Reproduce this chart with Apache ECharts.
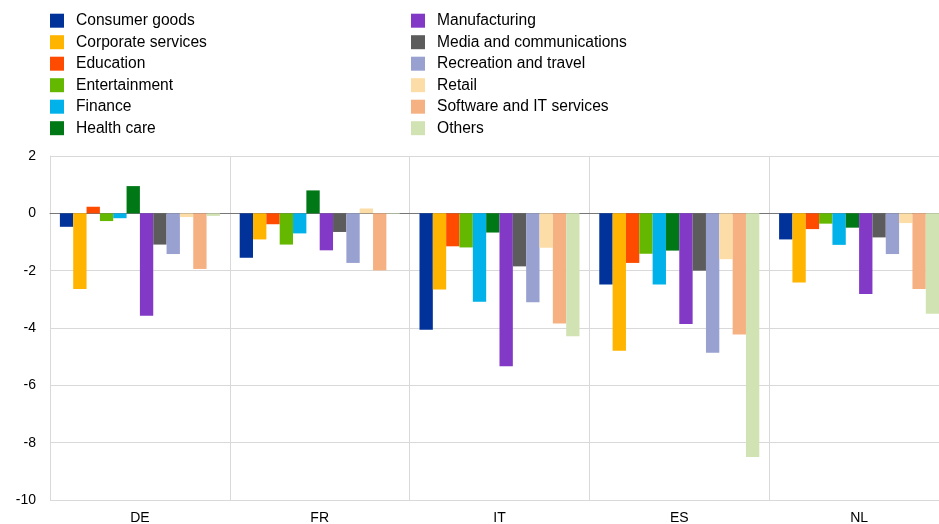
<!DOCTYPE html>
<html>
<head>
<meta charset="utf-8">
<script src="https://cdn.jsdelivr.net/npm/echarts@6/dist/echarts.min.js"></script>
<style>html,body{margin:0;padding:0;background:#fff;}#c{width:939px;height:524px;}</style>
</head>
<body>
<div id="c"></div>
<script>
const countries = ['DE', 'FR', 'IT', 'ES', 'NL'];
const sectors = ['Consumer goods', 'Corporate services', 'Education', 'Entertainment', 'Finance', 'Health care',
  'Manufacturing', 'Media and communications', 'Recreation and travel', 'Retail', 'Software and IT services', 'Others'];
const colors = ['#003299', '#FFB400', '#FF4B00', '#65B800', '#00B1EA', '#007816',
  '#8139C6', '#5C5C5C', '#98A1D0', '#FDDDA7', '#F6B183', '#D2E3B3'];
// values per sector, order DE, FR, IT, ES, NL
const consumerGoods = [-0.47, -1.55, -4.06, -2.48, -0.91];
const corporateServices = [-2.64, -0.91, -2.66, -4.79, -2.41];
const education = [0.23, -0.38, -1.15, -1.73, -0.55];
const entertainment = [-0.27, -1.09, -1.19, -1.41, -0.36];
const finance = [-0.17, -0.70, -3.08, -2.48, -1.10];
const healthCare = [0.95, 0.80, -0.67, -1.30, -0.50];
const manufacturing = [-3.57, -1.29, -5.33, -3.86, -2.81];
const media = [-1.09, -0.65, -1.85, -2.00, -0.84];
const recreation = [-1.42, -1.73, -3.10, -4.86, -1.42];
const retail = [-0.13, 0.17, -1.20, -1.60, -0.34];
const software = [-1.94, -1.99, -3.84, -4.23, -2.64];
const others = [-0.09, -0.02, -4.29, -8.50, -3.50];
const values = [consumerGoods, corporateServices, education, entertainment, finance, healthCare,
  manufacturing, media, recreation, retail, software, others];

const chart = echarts.init(document.getElementById('c'));
const font = 'Liberation Sans, Arial, sans-serif';
const legendCommon = {
  orient: 'vertical', top: 12.7, itemWidth: 14, itemHeight: 14, itemGap: 5.5, padding: 0,
  icon: 'rect', selectedMode: false,
  textStyle: { fontFamily: font, fontSize: 15.6, lineHeight: 14, color: '#000', padding: [0, 0, 0, 7] }
};
chart.setOption({
  animation: false,
  color: colors,
  legend: [
    Object.assign({}, legendCommon, { left: 50, data: sectors.slice(0, 6) }),
    Object.assign({}, legendCommon, { left: 411, data: sectors.slice(6) })
  ],
  grid: { left: 50, width: 899, top: 156, height: 344, containLabel: false, outerBoundsMode: 'none' },
  xAxis: {
    type: 'category', data: countries,
    axisLine: { onZero: true, lineStyle: { color: '#777', width: 1 } },
    axisTick: { show: false },
    axisLabel: { fontFamily: font, fontSize: 14, color: '#000', margin: 11 },
    splitLine: { show: true, lineStyle: { color: '#d9d9d9', width: 1 } }
  },
  yAxis: {
    type: 'value', min: -10, max: 2, interval: 2,
    axisLine: { show: true, lineStyle: { color: '#d9d9d9' } },
    axisTick: { show: false },
    axisLabel: { fontFamily: font, fontSize: 14, color: '#000', margin: 14 },
    splitLine: { lineStyle: { color: '#d9d9d9', width: 1 } }
  },
  series: sectors.map((s, i) => ({
    name: s, type: 'bar', data: values[i], barGap: '0%', barCategoryGap: '11%'
  }))
});
</script>
</body>
</html>
